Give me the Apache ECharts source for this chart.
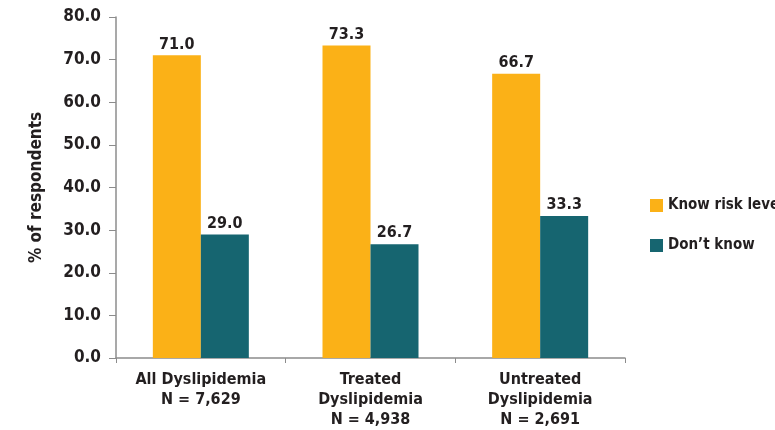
<!DOCTYPE html>
<html><head><meta charset="utf-8">
<script src="https://cdn.jsdelivr.net/npm/echarts@6/dist/echarts.min.js"></script>
<style>html,body{margin:0;padding:0;background:#fff}#c{width:775px;height:430px}</style>
</head><body><div id="c"></div>
<script>
const categories = ['All Dyslipidemia\nN = 7,629', 'Treated\nDyslipidemia\nN = 4,938', 'Untreated\nDyslipidemia\nN = 2,691'];
const knowRisk = [71.0, 73.3, 66.7];
const dontKnow = [29.0, 26.7, 33.3];
const seriesNames = ['Know risk level', 'Don\u2019t know'];
const font = '"DejaVu Sans Condensed", "Liberation Sans Narrow", sans-serif';
const chart = echarts.init(document.getElementById('c'));
const lbl = {show: true, position: 'top', distance: 3, formatter: p => p.value.toFixed(1), color: '#231f20', fontFamily: font, fontWeight: 'bold', fontSize: 16};
chart.setOption({
  animation: false,
  textStyle: {fontFamily: font},
  grid: {left: 116, right: 150, top: 17, bottom: 70, containLabel: false},
  legend: {
    orient: 'vertical', left: 645, top: 193, itemGap: 25, itemWidth: 13, itemHeight: 13,
    icon: 'rect',
    textStyle: {fontFamily: font, fontWeight: 'bold', fontSize: 15, color: '#231f20'},
    data: seriesNames
  },
  xAxis: {
    type: 'category', data: categories,
    axisLine: {lineStyle: {color: '#8c8c8c', width: 1.5}},
    axisTick: {show: true, alignWithLabel: false, length: 5, lineStyle: {color: '#8c8c8c'}},
    axisLabel: {interval: 0, color: '#231f20', fontFamily: font, fontWeight: 'bold', fontSize: 16, lineHeight: 20, margin: 12}
  },
  yAxis: {
    type: 'value', min: 0, max: 80, interval: 10,
    name: '% of respondents', nameLocation: 'middle', nameGap: 71, nameRotate: 90,
    nameTextStyle: {fontFamily: font, fontWeight: 'bold', fontSize: 17, color: '#231f20'},
    axisLine: {show: true, lineStyle: {color: '#8c8c8c', width: 1.5}},
    axisTick: {show: true, length: 7, lineStyle: {color: '#8c8c8c'}},
    splitLine: {show: false},
    axisLabel: {formatter: v => v.toFixed(1), color: '#231f20', fontFamily: font, fontWeight: 'bold', fontSize: 17, margin: 15}
  },
  series: [
    {name: seriesNames[0], type: 'bar', data: knowRisk, barWidth: 48, barGap: '0%', itemStyle: {color: '#fbb117'}, label: lbl},
    {name: seriesNames[1], type: 'bar', data: dontKnow, barWidth: 48, itemStyle: {color: '#166570'}, label: lbl}
  ]
});
</script></body></html>
